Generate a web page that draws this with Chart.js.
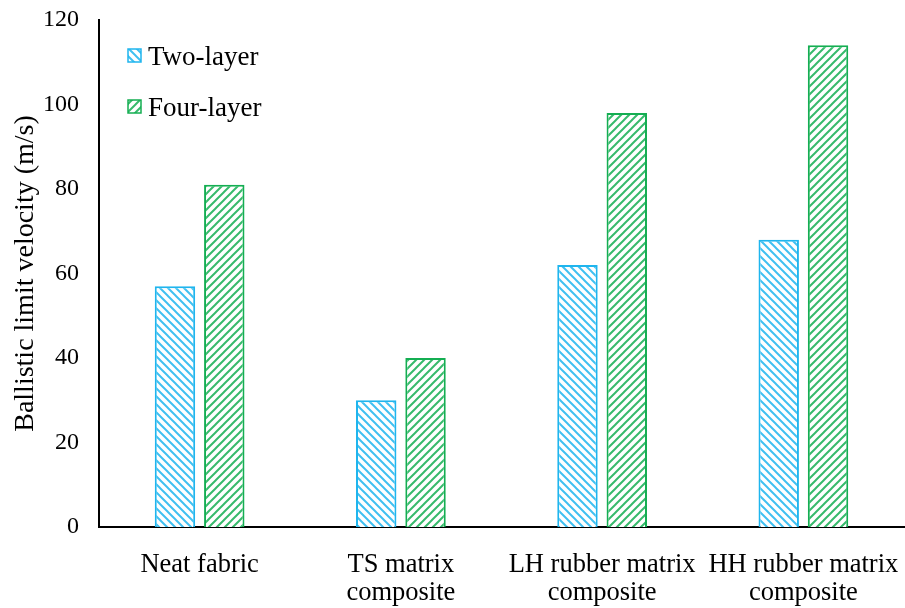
<!DOCTYPE html>
<html>
<head>
<meta charset="utf-8">
<script src="https://cdn.jsdelivr.net/npm/chart.js@4.4.0/dist/chart.umd.min.js"></script>
<style>
  html, body { margin: 0; padding: 0; background: #fff; }
  #wrap { width: 905px; height: 608px; }
</style>
</head>
<body>
<div id="wrap"><canvas id="Grafico" width="905" height="608"></canvas></div>
<script>
// dados do grafico
var categorias = [['Neat fabric'], ['TS matrix', 'composite'], ['LH rubber matrix', 'composite'], ['HH rubber matrix', 'composite']];
var duasCamadas = [57, 30, 62, 68];
var quatroCamadas = [81, 40, 98, 114];
var rotulos = ['Two-layer', 'Four-layer'];

var azul = '#1fb5ee';
var verde = '#14ae52';

// padrao hachurado
function hachura(cor, invertido) {
    var c = document.createElement('canvas');
    c.width = 8; c.height = 8;
    var g = c.getContext('2d');
    g.fillStyle = '#fff';
    g.fillRect(0, 0, 8, 8);
    g.strokeStyle = cor;
    g.globalAlpha = 0.85;
    g.lineWidth = 2;
    g.beginPath();
    if (invertido) {
        g.moveTo(-2, -2); g.lineTo(10, 10);
        g.moveTo(-2, 6); g.lineTo(2, 10);
        g.moveTo(6, -2); g.lineTo(10, 2);
    } else {
        g.moveTo(-2, 10); g.lineTo(10, -2);
        g.moveTo(-2, 2); g.lineTo(2, -2);
        g.moveTo(6, 10); g.lineTo(10, 6);
    }
    g.stroke();
    return g.createPattern(c, 'repeat');
}

var fonte = 'Liberation Serif, Times New Roman, serif';

// legenda dentro da area do grafico
var legendaPlugin = {
    id: 'legendaInterna',
    afterDraw: function (chart) {
        var ctx = chart.ctx;
        var itens = chart.data.datasets;
        ctx.save();
        ctx.font = '27px ' + fonte;
        ctx.textBaseline = 'middle';
        itens.forEach(function (ds, i) {
            var x = 128, y = 56 + i * 51;
            ctx.fillStyle = ds.backgroundColor;
            ctx.fillRect(x, y - 7, 13, 13);
            ctx.strokeStyle = ds.borderColor;
            ctx.lineWidth = 1.5;
            ctx.strokeRect(x, y - 7, 13, 13);
            ctx.fillStyle = '#000';
            ctx.fillText(ds.label, x + 20, y + 2);
        });
        ctx.restore();
    }
};

var ctx = document.getElementById('Grafico').getContext('2d');
var meuGrafico = new Chart(ctx, {
    type: 'bar',
    data: {
        labels: categorias,
        datasets: [{
            label: rotulos[0],
            data: duasCamadas,
            backgroundColor: hachura(azul, true),
            borderColor: azul,
            borderWidth: 2
        }, {
            label: rotulos[1],
            data: quatroCamadas,
            backgroundColor: hachura(verde, false),
            borderColor: verde,
            borderWidth: 2
        }]
    },
    options: {
        responsive: false,
        animation: false,
        layout: { padding: { top: 20, right: 1, left: 1, bottom: 0 } },
        categoryPercentage: 0.49,
        barPercentage: 0.82,
        plugins: {
            legend: { display: false },
            tooltip: { enabled: false }
        },
        scales: {
            x: {
                grid: { display: false, drawTicks: false },
                border: { color: '#000', width: 2 },
                ticks: { color: '#000', font: { family: fonte, size: 26.5, lineHeight: 1.05 }, padding: 24, maxRotation: 0 },
                afterFit: function (s) { s.height = 81; s.paddingLeft = 0; s.paddingRight = 0; }
            },
            y: {
                min: 0,
                max: 120,
                grid: { display: false, drawTicks: false },
                border: { color: '#000', width: 2 },
                ticks: { stepSize: 20, color: '#000', font: { family: fonte, size: 24 }, padding: 20 },
                title: { display: true, text: 'Ballistic limit velocity (m/s)', color: '#000', font: { family: fonte, size: 28 }, padding: { top: 8, bottom: 0 } },
                afterFit: function (s) { s.width = 98; s.paddingTop = 0; s.paddingBottom = 0; }
            }
        }
    },
    plugins: [legendaPlugin]
});
</script>
</body>
</html>
